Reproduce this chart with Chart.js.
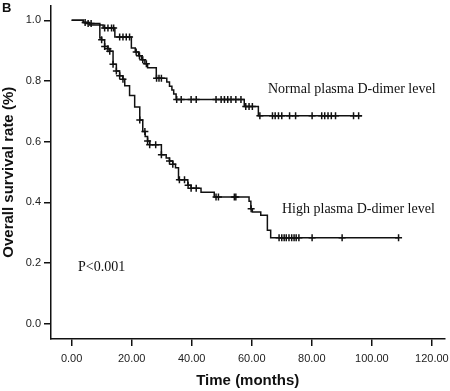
<!DOCTYPE html>
<html><head><meta charset="utf-8">
<script src="https://cdn.jsdelivr.net/npm/chart.js@4/dist/chart.umd.min.js"></script>
<style>html,body{margin:0;padding:0;background:#fff;}#wrap{width:450px;height:391px;position:relative;}</style>
</head><body><div id="wrap"><canvas id="c" width="450" height="391"></canvas></div>
<script>
// ---- Data (Kaplan-Meier steps) ----
const normalTimes = [0, 3.9, 5.5, 9.4, 10.5, 14.4, 19.9, 21.2, 22.3, 23.3, 24.4, 25.3, 28.2, 31.7, 32.6, 33.4, 34.0, 34.8, 57.5, 62.2, 96.7];
const normalSurv  = [1.0, 0.993, 0.99, 0.985, 0.975, 0.945, 0.909, 0.896, 0.883, 0.870, 0.857, 0.844, 0.809, 0.797, 0.783, 0.770, 0.757, 0.739, 0.716, 0.685, 0.685];
const normalCensorTimes = [4.5, 5.5, 6.5, 11.0, 12.1, 13.3, 14.0, 16.0, 17.1, 18.2, 19.3, 21.5, 22.6, 23.7, 24.9, 28.3, 29.1, 29.9, 35.0, 36.5, 39.8, 41.5, 48.1, 49.8, 50.9, 52.0, 53.1, 54.7, 56.4, 58.0, 59.1, 60.2, 62.7, 66.9, 67.8, 68.9, 70.0, 72.6, 74.6, 80.1, 83.3, 84.3, 85.4, 86.5, 87.9, 93.9, 95.6];

const highTimes = [0, 3.9, 6.0, 9.4, 10.0, 11.0, 12.1, 12.7, 13.8, 14.9, 16.0, 17.1, 17.7, 19.3, 21.0, 22.7, 23.7, 24.5, 25.3, 26.0, 29.9, 31.5, 32.6, 33.7, 34.6, 35.6, 38.7, 39.8, 43.1, 47.5, 59.1, 59.7, 60.2, 63.0, 65.2, 66.3, 108.9];
const highSurv  = [1.0, 0.993, 0.985, 0.942, 0.936, 0.914, 0.906, 0.898, 0.855, 0.833, 0.817, 0.806, 0.784, 0.752, 0.714, 0.671, 0.633, 0.617, 0.602, 0.590, 0.557, 0.546, 0.536, 0.525, 0.514, 0.474, 0.456, 0.446, 0.433, 0.417, 0.403, 0.379, 0.368, 0.357, 0.308, 0.283, 0.283];
const highCensorTimes = [10.0, 11.0, 12.1, 12.7, 13.8, 14.9, 16.0, 17.1, 22.7, 24.4, 25.3, 26.0, 28.0, 29.9, 32.6, 33.7, 35.9, 37.6, 38.8, 39.8, 41.5, 48.1, 48.9, 54.2, 54.7, 59.8, 69.1, 70.0, 70.8, 71.5, 72.4, 73.3, 74.1, 74.8, 75.7, 80.1, 90.1, 108.9];

const xTickValues = [0, 20, 40, 60, 80, 100, 120];
const xTickLabels = ['0.00', '20.00', '40.00', '60.00', '80.00', '100.00', '120.00'];
const yTickValues = [0, 0.2, 0.4, 0.6, 0.8, 1.0];
const yTickLabels = ['0.0', '0.2', '0.4', '0.6', '0.8', '1.0'];
const seriesLabels = ['Normal plasma D-dimer level', 'High plasma D-dimer level'];
const xTitle = 'Time (months)';
const yTitle = 'Overall survival rate (%)';
const pValueText = 'P<0.001';
const panelLabel = 'B';

function toPoints(times, surv) { return times.map((t, i) => ({x: t, y: surv[i]})); }
function survAt(times, surv, t) {
  let s = surv[0];
  for (let i = 0; i < times.length; i++) { if (times[i] <= t + 1e-9) s = surv[i]; }
  return s;
}
function censorPoints(ct, times, surv) { return ct.map(t => ({x: t, y: survAt(times, surv, t)})); }

const INK = '#111';
const sans = '"Liberation Sans", Arial, sans-serif';
const serif = '"Liberation Serif", "Times New Roman", serif';

const textPlugin = {
  id: 'texts',
  afterDraw(chart) {
    const ctx = chart.ctx;
    ctx.save();
    ctx.fillStyle = INK;
    ctx.textBaseline = 'alphabetic';
    ctx.textAlign = 'left';
    ctx.font = 'bold 13px ' + sans;
    ctx.fillText(panelLabel, 2, 12);
    ctx.font = '14px ' + serif;
    ctx.fillText(seriesLabels[0], 268, 93);
    ctx.fillText(seriesLabels[1], 282, 213);
    ctx.fillText(pValueText, 78, 271);
    ctx.restore();
  }
};

const axisCommon = {
  grid: { drawOnChartArea: false, drawTicks: true, tickLength: 7, color: INK, lineWidth: 1.5 },
  border: { display: true, color: INK, width: 1.5 },
};

new Chart(document.getElementById('c'), {
  type: 'line',
  data: {
    datasets: [
      { label: seriesLabels[0], data: toPoints(normalTimes, normalSurv), stepped: 'before', borderColor: INK, borderWidth: 1.5, pointRadius: 0, fill: false },
      { label: seriesLabels[1], data: toPoints(highTimes, highSurv), stepped: 'before', borderColor: INK, borderWidth: 1.5, pointRadius: 0, fill: false },
      { label: 'censor1', data: censorPoints(normalCensorTimes, normalTimes, normalSurv), showLine: false, pointStyle: 'cross', pointRadius: 3.5, pointBorderWidth: 1.5, pointBorderColor: INK, borderColor: INK },
      { label: 'censor2', data: censorPoints(highCensorTimes, highTimes, highSurv), showLine: false, pointStyle: 'cross', pointRadius: 3.5, pointBorderWidth: 1.5, pointBorderColor: INK, borderColor: INK },
    ]
  },
  options: {
    responsive: false,
    animation: false,
    devicePixelRatio: 1,
    layout: { padding: { top: 0, right: 3, bottom: 0, left: 0 } },
    plugins: { legend: { display: false }, tooltip: { enabled: false } },
    scales: {
      x: Object.assign({}, axisCommon, {
        type: 'linear', min: -6.87, max: 124.2,
        afterBuildTicks: s => { s.ticks = xTickValues.map(v => ({value: v})); },
        afterFit: s => { s.height = 52; s.paddingLeft = 0; s.paddingRight = 0; },
        ticks: { color: '#222', font: { family: sans, size: 11 }, padding: 6, maxRotation: 0, autoSkip: false,
          callback: (v) => xTickLabels[xTickValues.indexOf(v)] },
        title: { display: true, text: xTitle, color: INK, font: { family: sans, size: 15, weight: 'bold' }, padding: { top: 0, bottom: 1 } }
      }),
      y: Object.assign({}, axisCommon, {
        type: 'linear', min: -0.051, max: 1.049,
        afterBuildTicks: s => { s.ticks = yTickValues.map(v => ({value: v})); },
        afterFit: s => { s.width = 51; s.paddingTop = 0; s.paddingBottom = 0; },
        ticks: { color: '#222', font: { family: sans, size: 11 }, padding: 3, autoSkip: false,
          callback: (v) => yTickLabels[yTickValues.indexOf(v)] },
        title: { display: true, text: yTitle, color: INK, font: { family: sans, size: 15, weight: 'bold' }, padding: { top: 0, bottom: 0 } }
      })
    }
  },
  plugins: [textPlugin]
});
</script></body></html>
